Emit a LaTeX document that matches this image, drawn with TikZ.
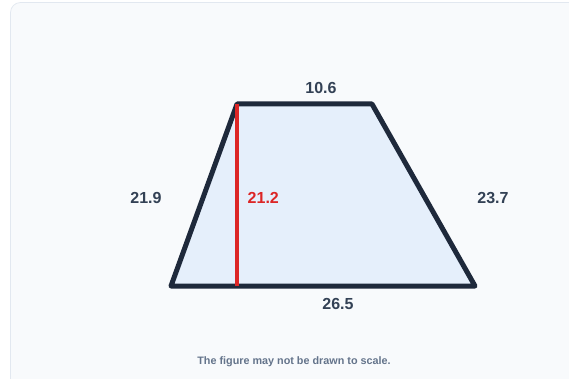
\documentclass[tikz,border=0pt]{standalone}
\usepackage{fontspec}
\setmainfont{Liberation Sans}
\definecolor{cardfill}{HTML}{F8FAFC}
\definecolor{cardline}{HTML}{E2E8F0}
\definecolor{edgecol}{HTML}{1E293B}
\definecolor{shapefill}{HTML}{E5EFFB}
\definecolor{heightcol}{HTML}{DC2626}
\definecolor{labelcol}{HTML}{334155}
\definecolor{notecol}{HTML}{64748B}
\tikzset{
    every picture/.style={line width=0.75pt},
    sidelabel/.style={font=\bfseries\fontsize{16}{19}\selectfont, text=labelcol},
}

\begin{document}
\begin{tikzpicture}[x=1pt, y=-1pt]
    \useasboundingbox (0,0) rectangle (569,379);
    \draw[cardline, fill=cardfill, rounded corners=10pt] (10.5,2.5) rectangle (600,400);
    \coordinate (A) at (171,286);
    \coordinate (B) at (237,104);
    \coordinate (C) at (372,104);
    \coordinate (D) at (475,286);
    \coordinate (H) at (237,286);
    \draw[edgecol, fill=shapefill, line width=5pt, line join=round, line cap=round] (A) -- (B) -- (C) -- (D) -- cycle;
    \draw[heightcol, line width=4pt] (B) -- (H);
    \node[sidelabel] (top) at (321,88) {10.6};
    \node[sidelabel] (left) at (146,198) {21.9};
    \node[sidelabel, text=heightcol, anchor=west] (height) at (244,198) {21.2};
    \node[sidelabel] (right) at (493,198) {23.7};
    \node[sidelabel] (bottom) at (338,304) {26.5};
    \node[font=\bfseries\fontsize{10.8}{13}\selectfont, text=notecol] (note) at (294,362) {The figure may not be drawn to scale.};
\end{tikzpicture}
\end{document}
